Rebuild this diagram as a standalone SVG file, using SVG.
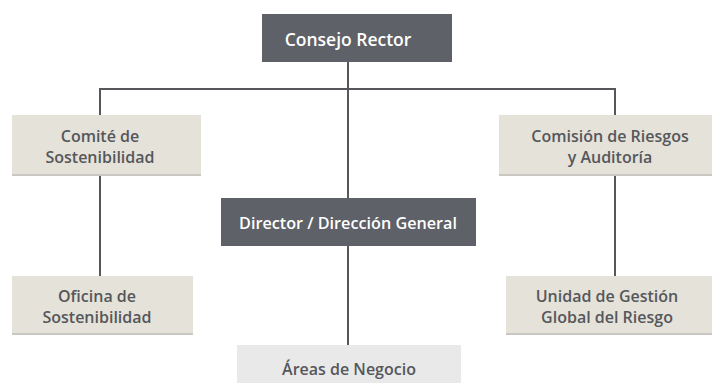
<svg xmlns="http://www.w3.org/2000/svg" width="712" height="383" viewBox="0 0 712 383">
<defs>
<style>
.dark{fill:#5e6167}
.beige{fill:#e5e2d9}
.light{fill:#e9e9e9}
.shadow{fill:#c9c7c1}
.tw{font-family:"Open Sans","Noto Sans",sans-serif;font-weight:600;fill:#ffffff;text-anchor:middle}
.tg{font-family:"Open Sans","Noto Sans",sans-serif;font-weight:600;fill:#55575b;text-anchor:middle;font-size:16px}
.ln{stroke:#55575b;stroke-width:2;fill:none}
</style>
</defs>
<rect width="712" height="383" fill="#ffffff"/>
<g id="connectors">
<path class="ln" d="M100 115 V89 H615 V115"/>
<path class="ln" d="M348 62 V198"/>
<path class="ln" d="M348 246 V345"/>
<path class="ln" d="M100 175 V276"/>
<path class="ln" d="M615 175 V276"/>
</g>
<g id="consejo">
<rect class="dark" x="262" y="14" width="190" height="48"/>
<text class="tw" x="348" y="46" font-size="17.5">Consejo Rector</text>
</g>
<g id="comite">
<rect class="shadow" x="12" y="115" width="189" height="61"/>
<rect class="beige" x="12" y="115" width="189" height="59"/>
<text class="tg" x="100" y="142">Comité de</text>
<text class="tg" x="100" y="163">Sostenibilidad</text>
</g>
<g id="comision">
<rect class="shadow" x="499" y="115" width="213" height="61"/>
<rect class="beige" x="499" y="115" width="213" height="59"/>
<text class="tg" x="610" y="142">Comisión de Riesgos</text>
<text class="tg" x="610" y="163">y Auditoría</text>
</g>
<g id="director">
<rect class="dark" x="221" y="198" width="255" height="48"/>
<text class="tw" x="348" y="229" font-size="16.2">Director / Dirección General</text>
</g>
<g id="oficina">
<rect class="shadow" x="12" y="276" width="181" height="59"/>
<rect class="beige" x="12" y="276" width="181" height="57"/>
<text class="tg" x="97" y="302">Oficina de</text>
<text class="tg" x="97" y="323">Sostenibilidad</text>
</g>
<g id="unidad">
<rect class="shadow" x="506" y="276" width="206" height="59"/>
<rect class="beige" x="506" y="276" width="206" height="57"/>
<text class="tg" x="607" y="302">Unidad de Gestión</text>
<text class="tg" x="607" y="323">Global del Riesgo</text>
</g>
<g id="areas">
<rect class="light" x="237" y="345" width="224" height="38"/>
<text class="tg" x="349" y="375">Áreas de Negocio</text>
</g>
</svg>
